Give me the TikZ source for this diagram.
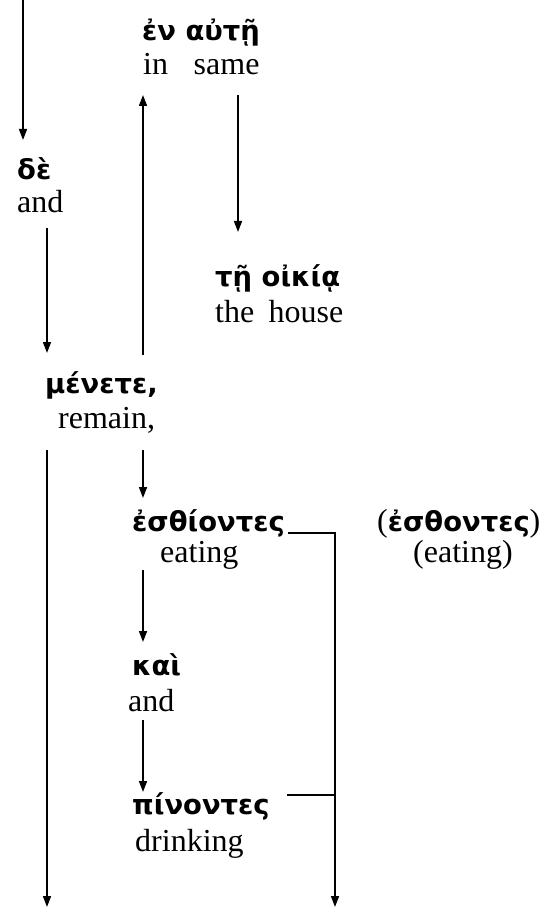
\documentclass[tikz,border=0pt]{standalone}
\usepackage{fontspec}
\setmainfont{Liberation Serif}
\newfontfamily\grkfont{DejaVu Sans}
\usetikzlibrary{arrows.meta,calc}
\newcommand\engtxt{\fontsize{32}{36}\selectfont}
\newcommand\grtxt{\grkfont\bfseries\fontsize{27.4}{32}\selectfont}
\tikzset{
  arr/.style={line width=1.6pt,-{Triangle[length=11pt,width=8pt]}},
  ln/.style={line width=1.6pt},
  gw/.style={anchor=base west,inner sep=0pt,font=\grtxt},
  ew/.style={anchor=base west,inner sep=0pt,font=\engtxt},
}
\begin{document}
\begin{tikzpicture}[x=1pt,y=-1pt]
\useasboundingbox (0,0) rectangle (550,909);
% nodes
\node[gw] (de) at (17,180) {δὲ};
\node[ew] (deE) at (17,213) {and};
\node[gw] (enaute) at (142,41) {ἐν αὐτῇ};
\node[ew] (inSame) at (143,75) {in\hspace{0.8em}same};
\node[gw] (te) at (215,286) {τῇ οἰκίᾳ};
\node[ew] (theHouse) at (215,322) {the\hspace{0.45em}house};
\node[gw] (menete) at (45,393) {μένετε,};
\node[ew] (remain) at (58,428) {remain,};
\node[gw] (esth) at (132,531) {ἐσθίοντες};
\node[ew] (eating) at (160,562) {eating};
\node[ew] (esth2) at (377,531) {({\grtxt ἐσθοντες})};
\node[ew] (eating2) at (413,562) {(eating)};
\node[gw] (kai) at (132,675) {καὶ};
\node[ew] (and2) at (128,711) {and};
\node[gw] (pin) at (132,814) {πίνοντες};
\node[ew] (drinking) at (135,851) {drinking};
% connector coordinates
\coordinate (a1s) at (23,0);     \coordinate (a1e) at (23,140);
\coordinate (a2s) at (47,228);   \coordinate (a2e) at (47,353);
\coordinate (a3s) at (143,355);  \coordinate (a3e) at (143,95);
\coordinate (a4s) at (238,95);   \coordinate (a4e) at (238,232);
\coordinate (a5s) at (47,450);   \coordinate (a5e) at (47,907);
\coordinate (a6s) at (143,450);  \coordinate (a6e) at (143,498);
\coordinate (a7s) at (143,570);  \coordinate (a7e) at (143,642);
\coordinate (a8s) at (143,720);  \coordinate (a8e) at (143,792);
\coordinate (l1s) at (288,533);  \coordinate (l1c) at (335,533);
\coordinate (l2s) at (287,795);  \coordinate (l2c) at (335,795);
\coordinate (bend) at (335,907);
% connectors
\draw[arr] (a1s) -- (a1e);
\draw[arr] (a2s) -- (a2e);
\draw[arr] (a3s) -- (a3e);
\draw[arr] (a4s) -- (a4e);
\draw[arr] (a5s) -- (a5e);
\draw[arr] (a6s) -- (a6e);
\draw[arr] (a7s) -- (a7e);
\draw[arr] (a8s) -- (a8e);
\draw[arr] (l1s) -- (l1c) -- (bend);
\draw[ln] (l2s) -- (l2c);
\end{tikzpicture}
\end{document}
